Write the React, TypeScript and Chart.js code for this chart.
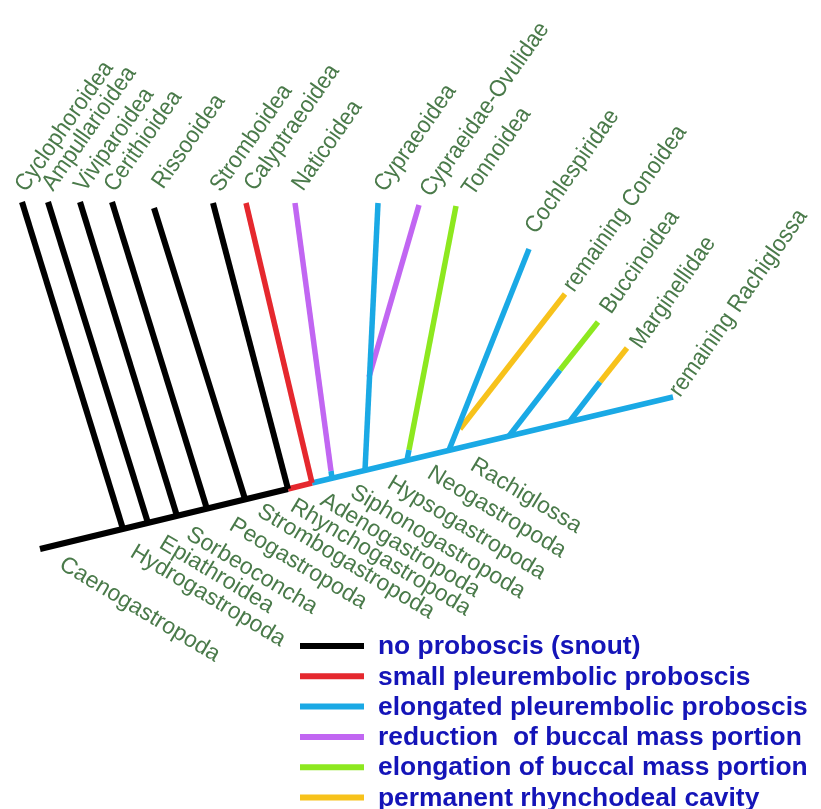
import React, { useEffect, useRef } from "react";
import { Chart, registerables } from "chart.js";

Chart.register(...registerables);

const W = 821;
const H = 809;

// ---- character states (legend) ----
const stateNames = [
  "no proboscis (snout)",
  "small pleurembolic proboscis",
  "elongated pleurembolic proboscis",
  "reduction  of buccal mass portion",
  "elongation of buccal mass portion",
  "permanent rhynchodeal cavity",
];
const stateColors = ["#000000", "#e5282e", "#1aa9e5", "#c166f2", "#8de81f", "#f7c21b"];

// ---- tree branches (layout units), one entry per branch segment ----
const segX1 = [40, 22, 48, 80, 112, 154, 213, 288, 246, 312, 331, 378, 409, 529, 560, 600, 295, 419, 456, 598, 565, 627];
const segY1 = [549, 202, 202, 202, 202, 208, 203, 489, 203, 483, 471, 203, 450, 249, 370, 382, 203, 205, 206, 322, 294, 348];
const segX2 = [288, 123, 148, 177, 207, 245, 288, 312, 312, 673, 332, 365, 407, 449, 509, 570, 331, 369, 409, 560, 460, 600];
const segY2 = [489, 529, 523, 516, 509, 499, 489, 483, 483, 397, 478, 470, 460, 450, 436, 421, 471, 377, 450, 370, 429, 382];
const segState = [0, 0, 0, 0, 0, 0, 0, 1, 1, 2, 2, 2, 2, 2, 2, 2, 3, 3, 4, 4, 5, 5];

// ---- terminal taxa ----
const tipNames = [
  "Cyclophoroidea", "Ampullarioidea", "Viviparoidea", "Cerithioidea", "Rissooidea",
  "Stromboidea", "Calyptraeoidea", "Naticoidea", "Cypraeoidea", "Cypraeidae-Ovulidae",
  "Tonnoidea", "Cochlespiridae", "remaining Conoidea", "Buccinoidea", "Marginellidae",
  "remaining Rachiglossa",
];
const tipLabelX = [26, 53, 85, 115, 163, 221, 255, 303, 385, 431, 473, 536, 574, 611, 641, 680];
const tipLabelY = [193, 192, 193, 193, 190, 193, 192, 192, 193, 198, 197, 235, 293, 315, 350, 398];

// ---- clade names along the backbone ----
const cladeNames = [
  "Caenogastropoda", "Hydrogastropoda", "Epiathroidea", "Sorbeoconcha", "Peogastropoda",
  "Strombogastropoda", "Rhynchogastropoda", "Adenogastropoda", "Siphonogastropoda",
  "Hypsogastropoda", "Neogastropoda", "Rachiglossa",
];
const cladeLabelX = [58, 129, 158, 185, 228, 256, 289, 319, 349, 386, 426, 469];
const cladeLabelY = [568, 556, 547, 538, 529, 515, 510, 504, 496, 487, 477, 469];

const TOP_ANGLE = 55;
const BOTTOM_ANGLE = 31;
const LABEL_COLOR = "#4a7a4a";
const LEGEND_COLOR = "#1414b8";
const FONT = 'Arial, "Liberation Sans", sans-serif';

const labelPlugin = {
  id: "treeLabels",
  afterDatasetsDraw(chart: any) {
    const ctx = chart.ctx as CanvasRenderingContext2D;
    const xs = chart.scales.x;
    const ys = chart.scales.y;
    ctx.save();
    ctx.fillStyle = LABEL_COLOR;
    ctx.textAlign = "left";
    ctx.textBaseline = "alphabetic";
    ctx.font = `22px ${FONT}`;
    tipNames.forEach((name, i) => {
      ctx.save();
      ctx.translate(xs.getPixelForValue(tipLabelX[i]), ys.getPixelForValue(tipLabelY[i]));
      ctx.rotate((-TOP_ANGLE * Math.PI) / 180);
      ctx.scale(1, 1.08);
      ctx.fillText(name, 0, 0);
      ctx.restore();
    });
    ctx.font = `23px ${FONT}`;
    cladeNames.forEach((name, i) => {
      ctx.save();
      ctx.translate(xs.getPixelForValue(cladeLabelX[i]), ys.getPixelForValue(cladeLabelY[i]));
      ctx.rotate((BOTTOM_ANGLE * Math.PI) / 180);
      ctx.fillText(name, 0, 0);
      ctx.restore();
    });
    // legend
    const lx0 = xs.getPixelForValue(300);
    const lx1 = xs.getPixelForValue(364);
    const tx = xs.getPixelForValue(378);
    ctx.font = `bold 26.4px ${FONT}`;
    ctx.textBaseline = "middle";
    stateNames.forEach((name, i) => {
      const y = ys.getPixelForValue(646 + i * 30.3);
      ctx.strokeStyle = stateColors[i];
      ctx.lineWidth = 6;
      ctx.lineCap = "butt";
      ctx.beginPath();
      ctx.moveTo(lx0, y);
      ctx.lineTo(lx1, y);
      ctx.stroke();
      ctx.fillStyle = LEGEND_COLOR;
      ctx.fillText(name, tx, y + 1);
    });
    ctx.restore();
  },
};

export default function App() {
  const ref = useRef<HTMLCanvasElement | null>(null);
  useEffect(() => {
    if (!ref.current) return;
    const datasets = segX1.map((_, i) => ({
      data: [
        { x: segX1[i], y: segY1[i] },
        { x: segX2[i], y: segY2[i] },
      ],
      showLine: true,
      borderColor: stateColors[segState[i]],
      backgroundColor: stateColors[segState[i]],
      borderWidth: segState[i] === 0 ? 6 : 5.5,
      borderCapStyle: "butt" as const,
      pointRadius: 0,
      pointHoverRadius: 0,
    }));
    const chart = new Chart(ref.current, {
      type: "scatter",
      data: { datasets },
      options: {
        animation: false,
        responsive: false,
        maintainAspectRatio: false,
        layout: { padding: 0 },
        events: [],
        scales: {
          x: { type: "linear", min: 0, max: W, display: false },
          y: { type: "linear", min: 0, max: H, reverse: true, display: false },
        },
        plugins: {
          legend: { display: false },
          tooltip: { enabled: false },
        },
      },
      plugins: [labelPlugin],
    });
    return () => chart.destroy();
  }, []);
  return (
    <div style={{ position: "absolute", left: 0, top: 0, width: W, height: H, background: "#ffffff" }}>
      <canvas ref={ref} width={W} height={H} style={{ display: "block" }} />
    </div>
  );
}
